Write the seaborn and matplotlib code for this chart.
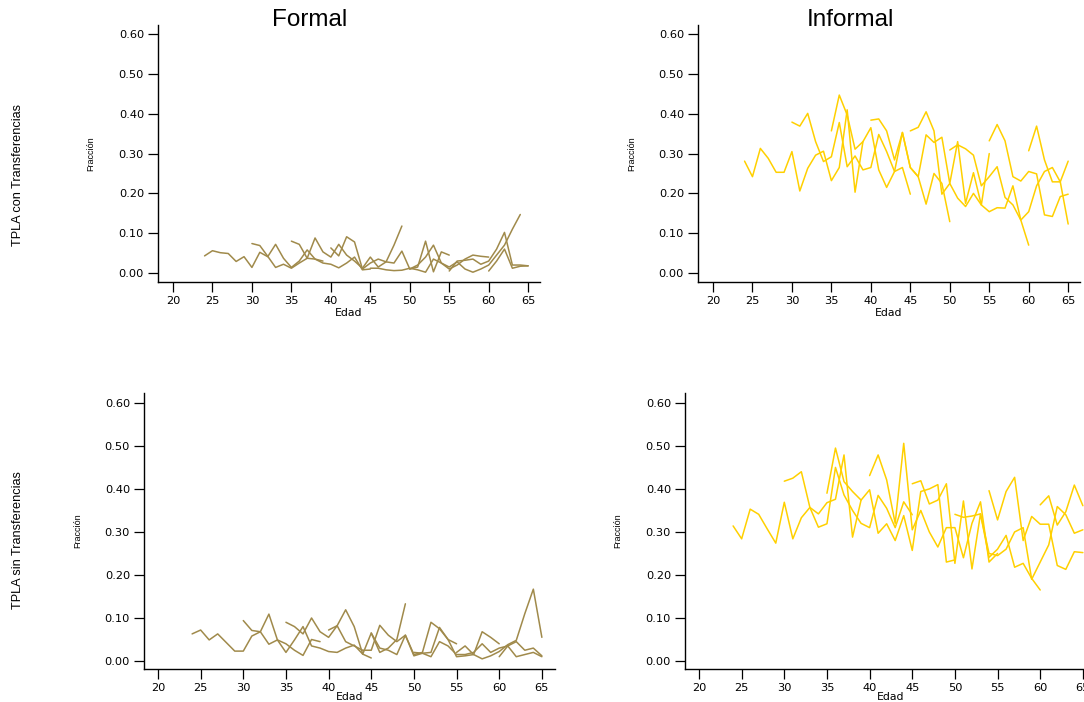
import matplotlib
matplotlib.use("Agg")
import matplotlib.pyplot as plt
import seaborn as sns
import pandas as pd

# ---------------- data ----------------
# Formal, TPLA con Transferencias (cohort series; start age given in name)
fc_24 = [0.043,0.056,0.051,0.049,0.029,0.041,0.014,0.052,0.041,0.072,0.037,0.014,0.030,0.058,0.035,0.030]
fc_30 = [0.074,0.069,0.042,0.014,0.022,0.012,0.025,0.037,0.035,0.025,0.022,0.013,0.025,0.040,0.008,0.010]
fc_35 = [0.080,0.072,0.037,0.088,0.053,0.040,0.072,0.045,0.030,0.012,0.040,0.015,0.028,0.070,0.118]
fc_40 = [0.063,0.043,0.091,0.078,0.010,0.025,0.035,0.028,0.025,0.055,0.010,0.015,0.080,0.003,0.053,0.045]
fc_45 = [0.012,0.012,0.008,0.006,0.007,0.012,0.008,0.002,0.035,0.025,0.010,0.020,0.035,0.045,0.042,0.040]
fc_50 = [0.010,0.020,0.040,0.070,0.025,0.015,0.028,0.010,0.002,0.010,0.020,0.045,0.070,0.110,0.147]
fc_55 = [0.005,0.030,0.032,0.035,0.022,0.030,0.060,0.102,0.020,0.020,0.018]
fc_60 = [0.005,0.030,0.060,0.012,0.017,0.018]
fc_starts = [24, 30, 35, 40, 45, 50, 55, 60]

# Informal, TPLA con Transferencias
ic_24 = [0.281,0.242,0.313,0.288,0.253,0.253,0.305,0.206,0.263,0.296,0.306,0.232,0.265,0.410,0.203,0.330]
ic_30 = [0.379,0.369,0.401,0.330,0.280,0.292,0.378,0.267,0.294,0.259,0.265,0.348,0.305,0.255,0.265,0.198]
ic_35 = [0.357,0.447,0.397,0.311,0.330,0.365,0.259,0.215,0.255,0.353,0.265,0.242,0.173,0.250,0.225,0.129]
ic_40 = [0.384,0.387,0.357,0.284,0.353,0.265,0.242,0.347,0.328,0.341,0.225,0.330,0.175,0.252,0.171,0.300]
ic_45 = [0.357,0.366,0.405,0.357,0.198,0.225,0.188,0.167,0.200,0.171,0.154,0.164,0.163,0.219,0.133,0.070]
ic_50 = [0.309,0.322,0.312,0.296,0.219,0.242,0.267,0.190,0.171,0.133,0.154,0.219,0.255,0.265,0.229,0.281]
ic_55 = [0.332,0.373,0.332,0.242,0.231,0.255,0.249,0.146,0.142,0.192,0.198]
ic_60 = [0.307,0.369,0.284,0.229,0.229,0.123]
ic_starts = [24, 30, 35, 40, 45, 50, 55, 60]

# Formal, TPLA sin Transferencias
fs_24 = [0.063,0.072,0.049,0.063,0.043,0.023,0.023,0.058,0.068,0.109,0.049,0.040,0.025,0.013,0.050,0.045]
fs_30 = [0.094,0.071,0.068,0.039,0.049,0.020,0.049,0.080,0.035,0.030,0.022,0.020,0.030,0.037,0.016,0.007]
fs_35 = [0.090,0.080,0.063,0.100,0.068,0.055,0.082,0.119,0.080,0.016,0.065,0.020,0.030,0.050,0.133]
fs_40 = [0.072,0.082,0.045,0.035,0.025,0.025,0.083,0.060,0.045,0.060,0.015,0.020,0.090,0.075,0.050,0.040]
fs_45 = [0.065,0.030,0.025,0.015,0.060,0.012,0.018,0.020,0.078,0.050,0.010,0.012,0.015,0.068,0.055,0.040]
fs_50 = [0.020,0.018,0.010,0.045,0.035,0.015,0.015,0.020,0.040,0.020,0.030,0.035,0.045,0.025,0.030,0.012]
fs_55 = [0.020,0.035,0.015,0.005,0.012,0.022,0.038,0.048,0.110,0.167,0.055]
fs_60 = [0.010,0.035,0.010,0.015,0.020,0.010]
fs_starts = [24, 30, 35, 40, 45, 50, 55, 60]

# Informal, TPLA sin Transferencias
is_24 = [0.314,0.284,0.353,0.341,0.307,0.274,0.369,0.284,0.333,0.357,0.342,0.368,0.376,0.479,0.288,0.374]
is_30 = [0.418,0.425,0.440,0.357,0.311,0.319,0.450,0.386,0.350,0.320,0.310,0.385,0.355,0.310,0.370,0.340]
is_35 = [0.390,0.495,0.417,0.394,0.374,0.398,0.297,0.319,0.280,0.338,0.257,0.394,0.400,0.410,0.230,0.235]
is_40 = [0.431,0.479,0.421,0.320,0.506,0.305,0.350,0.300,0.265,0.310,0.310,0.240,0.320,0.370,0.230,0.250]
is_45 = [0.412,0.419,0.365,0.374,0.412,0.227,0.372,0.214,0.342,0.241,0.260,0.292,0.218,0.227,0.192,0.165]
is_50 = [0.341,0.334,0.337,0.342,0.250,0.245,0.260,0.300,0.310,0.190,0.230,0.270,0.359,0.340,0.297,0.305]
is_54 = [0.396,0.328,0.394,0.427,0.280,0.336,0.318,0.318,0.222,0.213,0.254,0.252]
is_60 = [0.363,0.384,0.316,0.347,0.409,0.361]
is_starts = [24, 30, 35, 40, 45, 50, 54, 60]

x_ticks = [20, 25, 30, 35, 40, 45, 50, 55, 60, 65]
y_ticks = [0.0, 0.1, 0.2, 0.3, 0.4, 0.5, 0.6]
col_titles = ["Formal", "Informal"]
row_titles = ["TPLA con Transferencias", "TPLA sin Transferencias"]
x_label = "Edad"
y_label = "Fracción"

FORMAL_COLOR = "#A08A4B"
INFORMAL_COLOR = "#FFD000"

# ---------------- figure ----------------
sns.set_style("white")
plt.rcParams["font.family"] = ["DejaVu Sans"]

W, H = 1084, 702
fig = plt.figure(figsize=(W / 100, H / 100), dpi=100)


def make_df(starts, series):
    rows = []
    for s, vals in zip(starts, series):
        for i, v in enumerate(vals):
            rows.append({"edad": s + i, "frac": v, "cohorte": s})
    return pd.DataFrame(rows)


def add_ax(left, right, top, bottom):
    return fig.add_axes([left / W, 1 - bottom / H, (right - left) / W, (bottom - top) / H])


panels = [
    # (series, starts, color, pixel box, xlim, ylim)
    ([fc_24, fc_30, fc_35, fc_40, fc_45, fc_50, fc_55, fc_60], fc_starts, FORMAL_COLOR,
     (158, 540, 25, 282), (18.1, 66.5), (-0.0226, 0.623)),
    ([ic_24, ic_30, ic_35, ic_40, ic_45, ic_50, ic_55, ic_60], ic_starts, INFORMAL_COLOR,
     (698, 1080, 25, 282), (18.1, 66.5), (-0.0226, 0.623)),
    ([fs_24, fs_30, fs_35, fs_40, fs_45, fs_50, fs_55, fs_60], fs_starts, FORMAL_COLOR,
     (144, 555, 393, 669), (18.36, 66.54), (-0.0186, 0.623)),
    ([is_24, is_30, is_35, is_40, is_45, is_50, is_54, is_60], is_starts, INFORMAL_COLOR,
     (685, 1096, 393, 669), (18.36, 66.54), (-0.0186, 0.623)),
]

ylabel_px = [95, 636, 82, 622]
xlabel_off = [26, 26, 23.5, 23.5]

for k, (series, starts, color, box, xl, yl) in enumerate(panels):
    left, right, top, bottom = box
    ax = add_ax(left, right, top, bottom)
    df = make_df(starts, series)
    sns.lineplot(data=df, x="edad", y="frac", units="cohorte", estimator=None,
                 color=color, lw=1.1, ax=ax, legend=False)
    ax.set_xlim(*xl)
    ax.set_ylim(*yl)
    ax.set_xticks(x_ticks)
    ax.set_yticks(y_ticks)
    ax.set_yticklabels([f"{v:.2f}" for v in y_ticks])
    for sp in ["top", "right"]:
        ax.spines[sp].set_visible(False)
    for sp in ["left", "bottom"]:
        ax.spines[sp].set_color("black")
        ax.spines[sp].set_linewidth(1.0)
    ax.tick_params(axis="both", which="major", direction="out", length=7, width=0.9,
                   color="black", labelsize=8.2, labelcolor="black", pad=3,
                   left=True, bottom=True)
    ax.set_xlabel(x_label, fontsize=7.8, color="black")
    ax.set_ylabel(y_label, fontsize=6.5, color="black", fontfamily="Liberation Sans")
    ax.xaxis.set_label_coords(0.5, -xlabel_off[k] / (bottom - top))
    ax.yaxis.set_label_coords((ylabel_px[k] - left) / (right - left), 0.5)
    ax.grid(False)

# column titles
fig.text(310 / W, 1 - 20 / H, col_titles[0], ha="center", va="center", fontsize=17.5,
         fontfamily="Liberation Sans", color="black")
fig.text(850 / W, 1 - 20 / H, col_titles[1], ha="center", va="center", fontsize=17.5,
         fontfamily="Liberation Sans", color="black")
# row titles
fig.text(18 / W, 1 - 175 / H, row_titles[0], ha="center", va="center", rotation=90,
         fontsize=9.2, fontfamily="Liberation Sans", color="black")
fig.text(18 / W, 1 - 540 / H, row_titles[1], ha="center", va="center", rotation=90,
         fontsize=9.2, fontfamily="Liberation Sans", color="black")

fig.savefig("out.png", dpi=100, facecolor="white")
